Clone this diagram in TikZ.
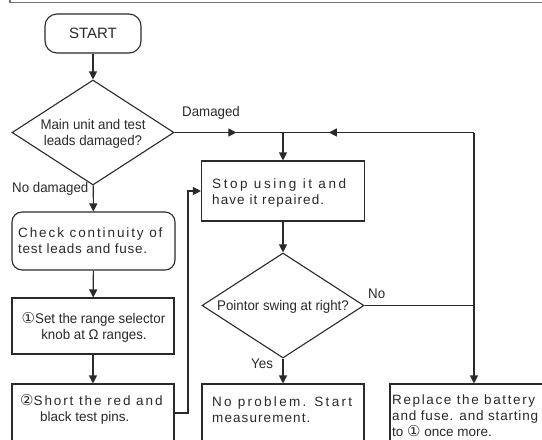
\documentclass[tikz,border=0pt]{standalone}
\usepackage{fontspec}
\setmainfont{Liberation Sans}
\newfontfamily\condfam[FakeStretch=0.95]{Liberation Sans}
\newfontfamily\dvfam{DejaVu Sans}
\usetikzlibrary{arrows.meta,decorations.markings,shapes.geometric}
\definecolor{ink}{HTML}{2A2A2A}
\newcommand\bodyfnt{\fontsize{13.5}{16}\selectfont}
\newcommand\condfnt{\condfam\fontsize{14}{16}\selectfont}
\newcommand\trk[2]{{\addfontfeature{LetterSpace=#1}#2}}
\newcommand\cdig[1]{{\dvfam\fontsize{15}{16}\selectfont #1}}
\tikzset{
  line/.style={draw=ink, line width=1.1pt},
  arr/.style={line, -{Triangle[length=8pt,width=8pt]}},
  midarrow/.style={postaction={decorate}, decoration={markings, mark=at position #1 with {\arrow{Triangle[length=8pt,width=8pt]}}}},
  box/.style={line, rectangle, inner sep=0pt},
  dia/.style={line, diamond, inner sep=0pt, minimum width=162pt, minimum height=105pt},
  tl/.style={anchor=base west, inner sep=0pt, font=\bodyfnt, text=ink},
  cl/.style={anchor=base, inner sep=0pt, font=\condfnt, text=ink},
  cll/.style={anchor=base west, inner sep=0pt, font=\condfnt, text=ink},
}
\begin{document}
\begin{tikzpicture}[x=1pt,y=-1pt]
\useasboundingbox (0,0) rectangle (542,440);
\clip (0,0) rectangle (542,440);
\fill[white] (0,0) rectangle (542,440);
% top frame rule
\draw[draw=black!55, line width=1.6pt] (10,-3) -- (10,2.5) -- (560,2.5);

% shapes
\node[box, rounded corners=12pt, minimum width=96pt, minimum height=39pt, font=\fontsize{15}{16}\selectfont, text=ink] (start) at (93,33.5) {START};
\node[dia] (d1) at (93,132.5) {};
\node[box, rounded corners=10pt, minimum width=163pt, minimum height=58pt] (check) at (93.5,241) {};
\node[box, minimum width=162pt, minimum height=56pt] (b1) at (93,326) {};
\node[box, minimum width=162pt, minimum height=80pt] (b2) at (93,424) {};
\node[box, minimum width=163pt, minimum height=60pt] (stop) at (283,191) {};
\node[dia] (d2) at (283,305.5) {};
\node[box, minimum width=162pt, minimum height=80pt] (np) at (283,424) {};
\node[box, minimum width=180pt, minimum height=80pt] (rep) at (480,424) {};

% texts
\node[cl] (d1a) at (93,129) {Main unit and test};
\node[cl] (d1b) at (93,145) {leads damaged?};
\node[cll] (lbd) at (182,116) {Damaged};
\node[cll] (lbn) at (12,192) {No damaged};
\node[tl] (ca) at (18,237) {\trk{14}{Check continuity of}};
\node[tl] (cb) at (18,253) {\trk{5.5}{test leads and fuse.}};
\node[cl] (b1a) at (93.5,323) {\cdig{①}Set the range selector};
\node[cl] (b1b) at (94,339) {knob at Ω ranges.};
\node[tl] (b2a) at (20,405) {\cdig{②}\trk{14}{Short the red and}};
\node[tl] (b2b) at (40,421) {black test pins.};
\node[tl] (sa) at (212,188) {\trk{19}{Stop using it and}};
\node[tl] (sb) at (212,204) {\trk{8}{have it repaired.}};
\node[cl] (d2a) at (283,310) {Pointor swing at right?};
\node[cll] (lno) at (368,298) {No};
\node[cll] (lyes) at (251,368) {Yes};
\node[tl] (na) at (212,406) {\trk{17}{No problem. Start}};
\node[tl] (nb) at (212,422) {\trk{8}{measurement.}};
\node[tl] (ra) at (392,404) {\trk{12}{Replace the battery}};
\node[tl] (rb) at (392,420) {\trk{6}{and fuse. and starting}};
\node[tl] (rc) at (392,436) {to \cdig{①} once more.};

% connectors
\coordinate (j1) at (283,132.5);
\coordinate (tr) at (474,132.5);
\coordinate (j2) at (474,305.5);
\coordinate (b2r) at (174,413);
\draw[arr] (start) -- (d1);
\draw[arr] (d1) -- (check);
\draw[arr] (check) -- (b1);
\draw[arr] (b1) -- (b2);
\draw[line, midarrow=0.57] (d1.east) -- (j1);
\draw[arr] (j1) -- (stop.north);
\draw[line, midarrow=0.76] (tr) -- (j1);
\draw[arr] (stop) -- (d2);
\draw[line] (d2.east) -- (j2);
\draw[line] (j2) -- (tr);
\draw[arr] (j2) -- (j2 |- rep.north);
\draw[arr] (d2.south) -- (np.north);
\draw[arr] (b2r) -- ++(14,0) |- (stop.west);
\end{tikzpicture}
\end{document}
